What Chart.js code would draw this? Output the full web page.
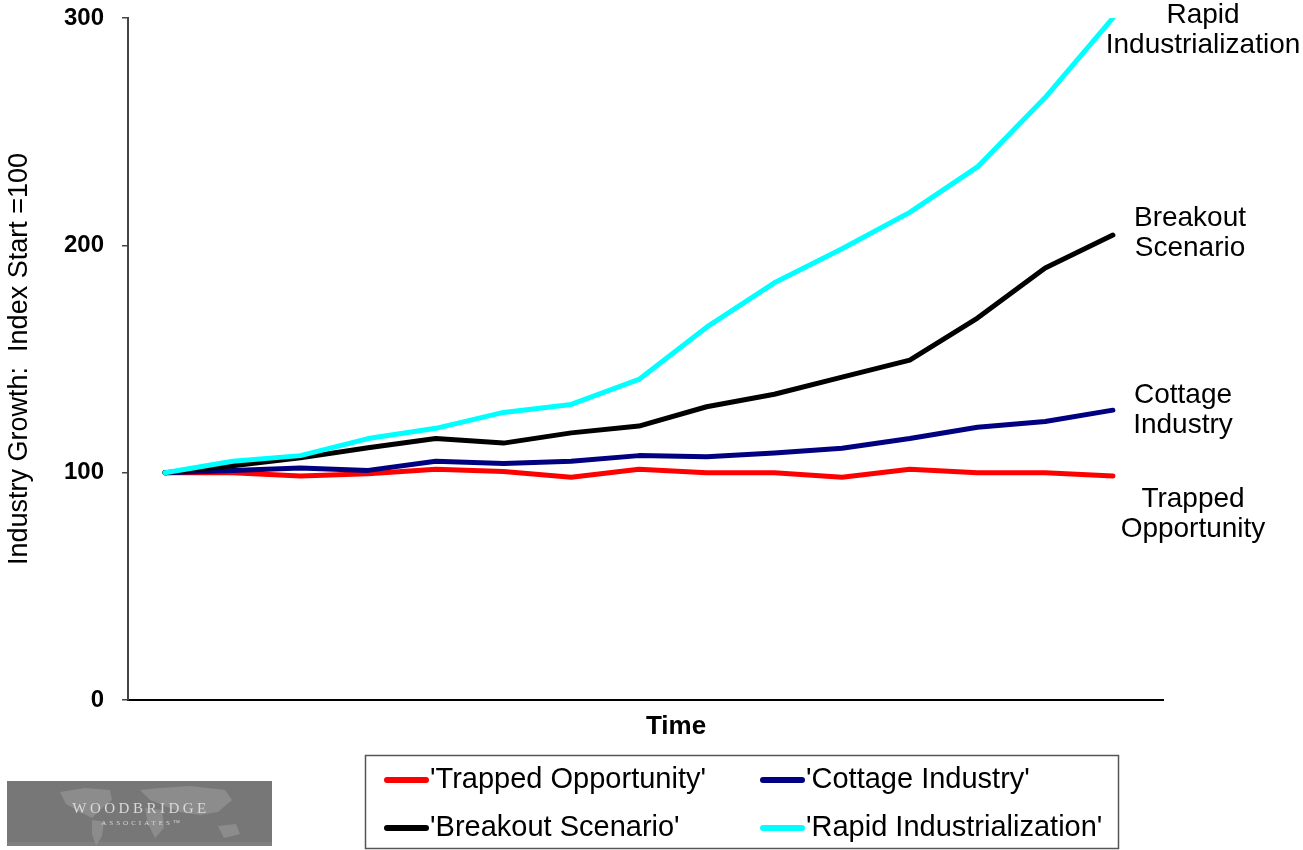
<!DOCTYPE html>
<html><head><meta charset="utf-8">
<script src="https://cdn.jsdelivr.net/npm/chart.js@4.4.1/dist/chart.umd.min.js"></script>
<style>html,body{margin:0;padding:0;background:#fff;}#wrap{width:1303px;height:850px;}</style>
</head><body><div id="wrap"><canvas id="c" width="1303" height="850"></canvas></div>
<script>
// ---- data ----
const periods = [0, 1, 2, 3, 4, 5, 6, 7, 8, 9, 10, 11, 12, 13, 14];
const seriesNames = ["'Trapped Opportunity'", "'Cottage Industry'", "'Breakout Scenario'", "'Rapid Industrialization'"];
const trapped  = [100, 100, 98.5, 99.5, 101.5, 100.5, 98, 101.5, 100, 100, 98, 101.5, 100, 100, 98.5];
const cottage  = [100, 101, 102, 101, 105, 104, 105, 107.5, 107, 108.7, 110.7, 115, 120, 122.5, 127.5];
const breakout = [100, 103, 106.5, 111, 115, 113, 117.5, 120.5, 129, 134.5, 142, 149.5, 168, 190, 204.5];
const rapid    = [100, 105, 107.5, 115, 119.5, 126.5, 130, 141, 164, 183.5, 198.5, 214.5, 234.5, 265, 300];
const yTicks = [0, 100, 200, 300];
const endLabels = [["Trapped", "Opportunity"], ["Cottage", "Industry"], ["Breakout", "Scenario"], ["Rapid", "Industrialization"]];
const yTitle = "Industry Growth:  Index Start =100";
const xTitle = "Time";

// ---- styles ----
const colors = ['#ff0000', '#000080', '#000000', '#00ffff'];
const drawOrder = [3, 2, 1, 0];
const endLabelStyle = [{x: 1193, dy: 38}, {x: 1183, dy: 0}, {x: 1190, dy: -2}, {x: 1203, dy: 12}];
const FONT = '"Liberation Sans", Arial, Helvetica, sans-serif';

const allSeries = [trapped, cottage, breakout, rapid];
const datasets = allSeries.map((vals, i) => ({
  label: seriesNames[i],
  data: periods.map((p, j) => ({x: p, y: vals[j]})),
  borderColor: colors[i],
  backgroundColor: colors[i],
  borderWidth: 5,
  pointRadius: 0,
  tension: 0,
  fill: false,
  borderCapStyle: 'round',
  borderJoinStyle: 'round',
  order: drawOrder[i]
}));

const extras = {
  id: 'extras',
  afterDraw(chart) {
    const ctx = chart.ctx;
    const ys = chart.scales.y;
    ctx.save();
    // x-axis title
    ctx.fillStyle = '#000';
    ctx.font = 'bold 26px ' + FONT;
    ctx.textAlign = 'center';
    ctx.textBaseline = 'middle';
    ctx.fillText(xTitle, 676, 727);
    // end labels
    ctx.font = '28px ' + FONT;
    chart.data.datasets.forEach((ds, i) => {
      const last = ds.data[ds.data.length - 1].y;
      const cy = ys.getPixelForValue(last) + endLabelStyle[i].dy;
      const lines = endLabels[i];
      const gap = 30;
      lines.forEach((t, k) => {
        ctx.fillText(t, endLabelStyle[i].x, cy + (k - (lines.length - 1) / 2) * gap);
      });
    });
    // legend box
    ctx.strokeStyle = '#555';
    ctx.lineWidth = 1.5;
    ctx.strokeRect(365.5, 755.5, 753, 93);
    const colX = [[387, 426, 430], [763, 802, 806]];
    const rowY = [780, 828];
    ctx.font = '29px ' + FONT;
    ctx.textAlign = 'left';
    chart.data.datasets.forEach((ds, i) => {
      const c = colX[i % 2], y = rowY[Math.floor(i / 2)];
      ctx.strokeStyle = ds.borderColor;
      ctx.lineWidth = 6;
      ctx.lineCap = 'round';
      ctx.beginPath(); ctx.moveTo(c[0], y); ctx.lineTo(c[1], y); ctx.stroke();
      ctx.fillStyle = '#000';
      ctx.fillText(ds.label, c[2], y);
    });
    // logo
    ctx.fillStyle = '#777';
    ctx.fillRect(7, 781, 265, 65);
    ctx.fillStyle = '#7f7f7f';
    ctx.fillRect(7, 842, 265, 4);
    ctx.fillStyle = '#8c8c8c';
    const blob = (pts) => { ctx.beginPath(); ctx.moveTo(pts[0], pts[1]); for (let k = 2; k < pts.length; k += 2) ctx.lineTo(pts[k], pts[k+1]); ctx.closePath(); ctx.fill(); };
    blob([60,792, 85,788, 110,790, 112,800, 100,810, 92,818, 80,812, 66,804]);
    blob([92,820, 104,822, 102,836, 96,846, 92,834]);
    blob([140,790, 160,788, 190,786, 225,790, 232,800, 218,812, 200,815, 180,812, 165,806, 150,800]);
    blob([145,808, 162,810, 164,828, 155,838, 148,824]);
    blob([218,826, 236,824, 240,834, 224,838]);
    ctx.fillStyle = '#d9d9d9';
    ctx.textAlign = 'center';
    ctx.font = '15px "Liberation Serif", "Times New Roman", serif';
    try { ctx.letterSpacing = '3.5px'; } catch (e) {}
    ctx.fillText('WOODBRIDGE', 141, 809);
    ctx.font = '7px "Liberation Serif", "Times New Roman", serif';
    try { ctx.letterSpacing = '3px'; } catch (e) {}
    ctx.fillText('ASSOCIATES\u2122', 142, 823);
    ctx.restore();
  }
};

new Chart(document.getElementById('c'), {
  type: 'line',
  data: { datasets },
  options: {
    responsive: false,
    animation: false,
    devicePixelRatio: 1,
    layout: { padding: { top: 18, right: 140, left: 0, bottom: 100 } },
    plugins: { legend: { display: false }, tooltip: { enabled: false } },
    scales: {
      x: {
        type: 'linear',
        min: -0.546,
        max: 14.74,
        ticks: { display: false },
        grid: { display: false, drawTicks: false },
        border: { display: true, color: '#000', width: 2 },
        title: { display: false },
        afterFit: s => { s.height = 50; }
      },
      y: {
        type: 'linear',
        min: 0,
        max: 300,
        afterBuildTicks: s => { s.ticks = yTicks.map(v => ({ value: v })); },
        ticks: { color: '#000', padding: 18, font: { family: FONT, size: 24, weight: 'bold' } },
        grid: { display: true, drawOnChartArea: false, drawTicks: true, tickLength: 6, color: '#444', lineWidth: 1.5 },
        border: { display: true, color: '#444', width: 2 },
        title: { display: true, text: yTitle, color: '#000', font: { family: FONT, size: 27 }, padding: { top: 3, bottom: 0 } },
        afterFit: s => { s.width = 128; s.paddingTop = 0; s.paddingBottom = 0; }
      }
    }
  },
  plugins: [extras]
});
</script>
</body></html>
